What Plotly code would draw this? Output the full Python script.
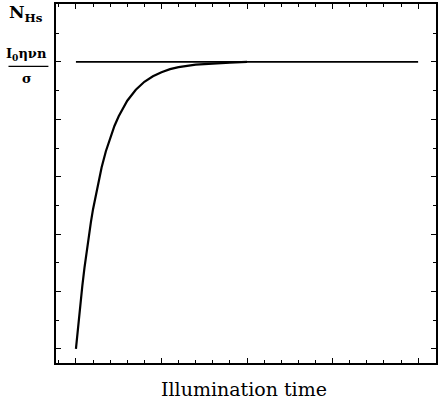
import plotly.graph_objects as go

# Curve (illumination time, N_Hs relative to saturation)
t_curve = [0, 0.025, 0.05, 0.075, 0.1, 0.125, 0.15, 0.175, 0.2, 0.25, 0.3, 0.35, 0.4, 0.45,
           0.5, 0.55, 0.6, 0.7, 0.8, 0.9, 1.0, 1.1, 1.2, 1.4, 1.6, 1.8, 2.0]
n_curve = [0, 0.08, 0.154, 0.221, 0.283, 0.341, 0.393, 0.442, 0.487, 0.565, 0.632, 0.689,
           0.736, 0.777, 0.811, 0.84, 0.865, 0.903, 0.931, 0.950, 0.964, 0.975, 0.982,
           0.991, 0.995, 0.998, 1.0]

# Saturation level line
t_level = [0, 4]
n_level = [1, 1]

fig = go.Figure()
fig.add_trace(go.Scatter(x=t_level, y=n_level, mode="lines",
                         line=dict(color="black", width=1.8), showlegend=False))
fig.add_trace(go.Scatter(x=t_curve, y=n_curve, mode="lines",
                         line=dict(color="black", width=2.2), showlegend=False))

axis_common = dict(showgrid=False, zeroline=False, showline=True, linecolor="black",
                   linewidth=1.5, mirror="ticks", ticks="inside", tickcolor="black",
                   showticklabels=False)

fig.update_xaxes(range=[-0.233, 4.209], tickvals=[0, 1, 2, 3, 4], ticklen=5, tickwidth=1.2,
                 minor=dict(tickvals=[i * 0.2 for i in range(-1, 22) if i % 5 != 0],
                            ticks="inside", ticklen=3, tickcolor="black", tickwidth=1),
                 **axis_common)
fig.update_yaxes(range=[-0.049, 1.202], tickvals=[0, 0.2, 0.4, 0.6, 0.8, 1.0, 1.2], ticklen=5,
                 tickwidth=1.2,
                 minor=dict(tickvals=[0.1, 0.3, 0.5, 0.7, 0.9, 1.1],
                            ticks="inside", ticklen=3, tickcolor="black", tickwidth=1),
                 **axis_common)

font = "DejaVu Serif, Liberation Serif, serif"
fig.update_layout(
    width=439, height=402,
    margin=dict(l=56, r=1, t=4, b=39),
    paper_bgcolor="white", plot_bgcolor="white",
    annotations=[
        dict(text="<b>N<sub>Hs</sub></b>", x=-0.078, y=1.01, xref="paper", yref="paper",
             xanchor="center", yanchor="top", showarrow=False,
             font=dict(family=font, size=17, color="black")),
        dict(text="<b>I<sub>0</sub>ηνn</b>", x=-0.077, y=0.829, xref="paper", yref="paper",
             xanchor="center", yanchor="bottom", showarrow=False,
             font=dict(family=font, size=13, color="black")),
        dict(text="<b>σ</b>", x=-0.077, y=0.82, xref="paper", yref="paper",
             xanchor="center", yanchor="top", showarrow=False,
             font=dict(family=font, size=13, color="black")),
        dict(text="Illumination time", x=0.495, y=-0.035, xref="paper", yref="paper",
             xanchor="center", yanchor="top", showarrow=False,
             font=dict(family=font, size=19, color="black")),
    ],
    shapes=[dict(type="line", xref="paper", yref="paper", x0=-0.125, x1=-0.02,
                 y0=0.826, y1=0.826, line=dict(color="black", width=1.2))],
)

fig.write_html("out.html")
